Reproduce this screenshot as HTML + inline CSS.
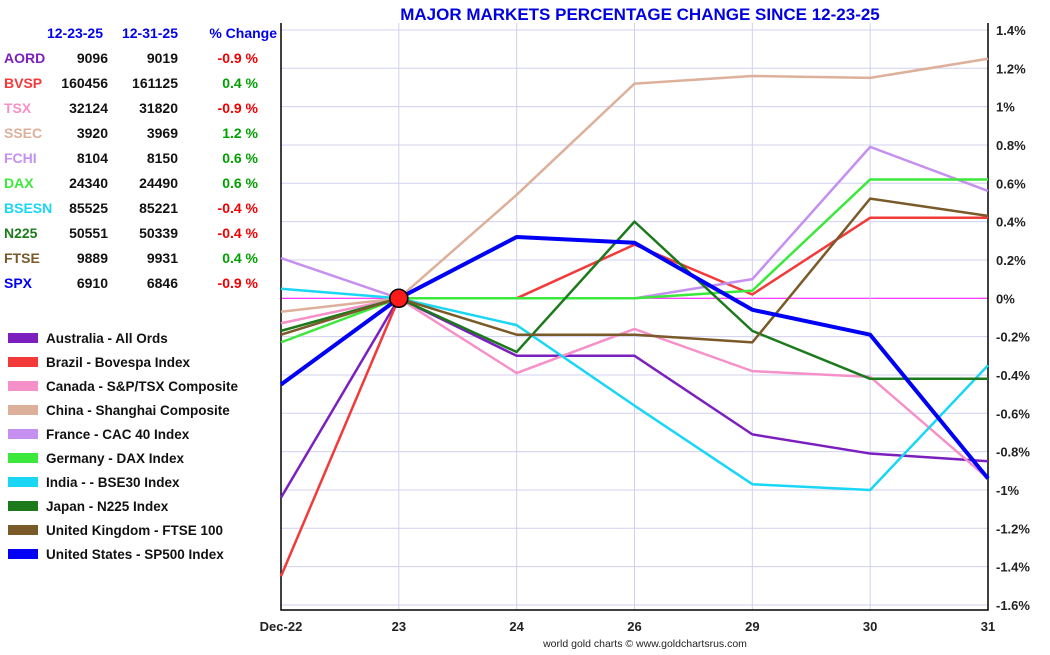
<!DOCTYPE html>
<html><head><meta charset="utf-8"><style>
body{margin:0;width:1050px;height:650px;background:#fff;font-family:"Liberation Sans",sans-serif;overflow:hidden}
svg text{font-family:"Liberation Sans",sans-serif}
</style></head><body>
<svg id="c" width="1050" height="650"></svg>
<script>
const categories=["Dec-22","23","24","26","29","30","31"];
const yTicks=[1.4,1.2,1,0.8,0.6,0.4,0.2,0,-0.2,-0.4,-0.6,-0.8,-1,-1.2,-1.4,-1.6];
const codes=["AORD","BVSP","TSX","SSEC","FCHI","DAX","BSESN","N225","FTSE","SPX"];
const names=["Australia - All Ords","Brazil - Bovespa Index","Canada - S&P/TSX Composite","China - Shanghai Composite","France - CAC 40 Index","Germany - DAX Index","India -  - BSE30 Index","Japan - N225 Index","United Kingdom - FTSE 100","United States - SP500 Index"];
const colors=["#7b1fbf","#f23a3a","#f590c8","#dcb09a","#c590f0","#3ce83c","#1ad6f5","#1c7a1c","#7a5a28","#0000f5"];
const startVals=["9096","160456","32124","3920","8104","24340","85525","50551","9889","6910"];
const endVals=["9019","161125","31820","3969","8150","24490","85221","50339","9931","6846"];
const pctChange=["-0.9 %","0.4 %","-0.9 %","1.2 %","0.6 %","0.6 %","-0.4 %","-0.4 %","0.4 %","-0.9 %"];
const sAORD=[-1.04,0,-0.30,-0.30,-0.71,-0.81,-0.85];
const sBVSP=[-1.45,0,0,0.28,0.02,0.42,0.42];
const sTSX=[-0.13,0,-0.39,-0.16,-0.38,-0.41,-0.94];
const sSSEC=[-0.07,0,0.54,1.12,1.16,1.15,1.25];
const sFCHI=[0.21,0,0,0,0.10,0.79,0.56];
const sDAX=[-0.23,0,0,0,0.04,0.62,0.62];
const sBSESN=[0.05,0,-0.14,-0.56,-0.97,-1.0,-0.35];
const sN225=[-0.17,0,-0.28,0.40,-0.17,-0.42,-0.42];
const sFTSE=[-0.19,0,-0.19,-0.19,-0.23,0.52,0.43];
const sSPX=[-0.45,0,0.32,0.29,-0.06,-0.19,-0.94];
const series=[sAORD,sBVSP,sTSX,sSSEC,sFCHI,sDAX,sBSESN,sN225,sFTSE,sSPX];

const NS="http://www.w3.org/2000/svg",svg=document.getElementById('c');
const X0=281,X1=988,YT=23,YB=610;
const xs=i=>X0+i*(X1-X0)/(categories.length-1);
const ys=v=>298.3-v*191.67;
function el(t,a,p){const e=document.createElementNS(NS,t);for(const k in a)e.setAttribute(k,a[k]);(p||svg).appendChild(e);return e;}
function tx(x,y,s,a){const e=el('text',Object.assign({x:x,y:y},a));e.textContent=s;return e;}

let t=tx(640,20,"MAJOR MARKETS PERCENTAGE CHANGE SINCE 12-23-25",{'text-anchor':'middle','font-size':17,'font-weight':'bold',fill:'#0000e0'});



yTicks.forEach(v=>{
  const l=el('line',{x1:X0,x2:X1,y1:ys(v),y2:ys(v),stroke:v===0?'#ff00ff':'#d0d0ee','stroke-width':1});
  
  
  const s=(v===0?"0":(Math.round(v*10)/10).toString())+"%";
  const lb=tx(996,ys(v)+5,s,{'font-size':13,'font-weight':'bold',fill:'#222'});
  
  
});
categories.forEach((c,i)=>{
  const l=el('line',{x1:xs(i),x2:xs(i),y1:YT,y2:YB,stroke:'#d0d0ee'});
  
  
  const lb=tx(xs(i),631,c,{'text-anchor':'middle','font-size':13,'font-weight':'bold',fill:'#222'});
  
  
});
let ax=el('path',{d:`M${X0} ${YT}V${YB}H${X1}V${YT}`,fill:'none',stroke:'#000','stroke-width':1.5});



series.forEach((s,k)=>{
  const p=el('polyline',{points:s.map((v,i)=>xs(i)+','+ys(v)).join(' '),fill:'none',stroke:colors[k],'stroke-width':k===9?4:2.5,'stroke-linejoin':'round'});
  
  
});
let dot=el('circle',{cx:xs(1),cy:ys(0),r:9,fill:'#ff1a1a',stroke:'#000','stroke-width':1.5});



[["12-23-25",103],["12-31-25",178],["% Change",277]].forEach(h=>{
  const e=tx(h[1],38,h[0],{'text-anchor':'end','font-size':14,'font-weight':'bold',fill:'#0000f0'});
  
  
});
codes.forEach((c,k)=>{
  const y=63+k*25;
  let e=tx(4,y,c,{'font-size':14,'font-weight':'bold',fill:colors[k]});
  
  
  e=tx(108,y,startVals[k],{'text-anchor':'end','font-size':14,'font-weight':'bold',fill:'#111'});
  
  
  e=tx(178,y,endVals[k],{'text-anchor':'end','font-size':14,'font-weight':'bold',fill:'#111'});
  
  
  e=tx(258,y,pctChange[k],{'text-anchor':'end','font-size':14,'font-weight':'bold',fill:pctChange[k][0]==='-'?'#f00000':'#00a000'});
  
  
});
names.forEach((n,k)=>{
  const y=338+k*24;
  const r=el('rect',{x:8,y:y-5,width:30,height:10,fill:colors[k]});
  
  
  const e=tx(46,y+5,n,{'font-size':13.5,'font-weight':'bold',fill:'#111','xml:space':'preserve'});
  
  
});
t=tx(645,647,"world gold charts © www.goldchartsrus.com",{'text-anchor':'middle','font-size':10.5,fill:'#222'});


</script>
</body></html>
